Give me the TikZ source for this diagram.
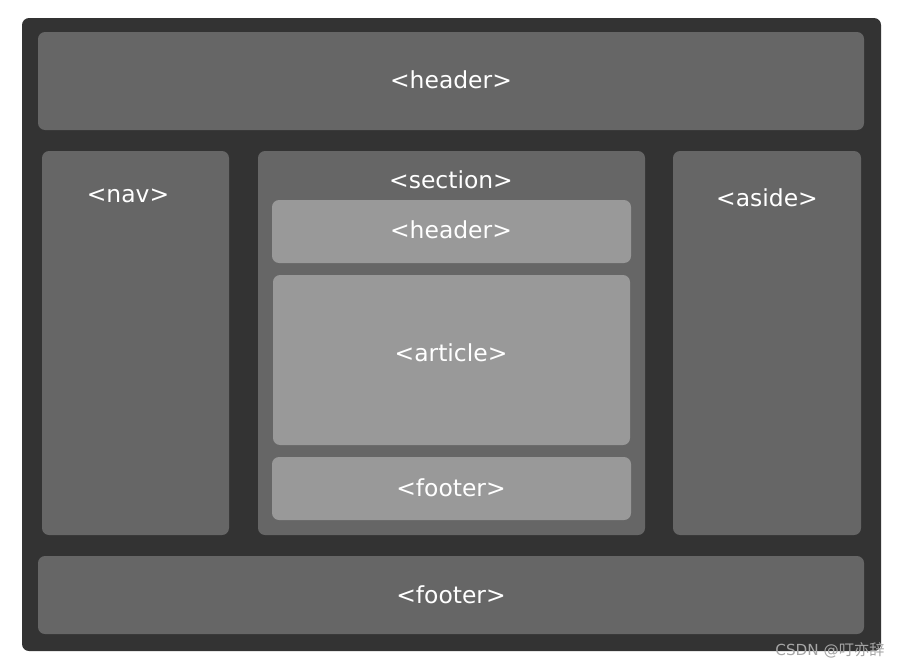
\documentclass[tikz,border=0pt]{standalone}
\usepackage{fontspec}
\setmainfont{DejaVu Sans}
\newfontfamily\cjk{Noto Sans CJK SC}
\usetikzlibrary{positioning}
\begin{document}
\begin{tikzpicture}
    [ x = .03cm, y = -.03cm
    , box/.style =
      { rounded corners=6pt, draw=none }
    , outer/.style =
      { box, fill=black!80 }
    , block/.style =
      { box, fill=black!60 }
    , inner/.style =
      { box, fill=black!40 }
    , tag/.style =
      { text=white, font=\fontsize{20}{24}\selectfont }
    ]
    \useasboundingbox (0,0) rectangle (905,669);
    \fill [outer] (22,18) rectangle (881,651);
    \fill [block] (38,32) rectangle (864,130);
    \fill [block] (42,151) rectangle (229,535);
    \fill [block] (258,151) rectangle (645,535);
    \fill [block] (673,151) rectangle (861,535);
    \fill [block] (38,556) rectangle (864,634);
    \fill [inner] (272,200) rectangle (631,263);
    \fill [inner] (273,275) rectangle (630,445);
    \fill [inner] (272,457) rectangle (631,520);

    \node [tag] (header) at (451,80) {<header>};
    \node [tag] (nav) at (128,196) {<nav>};
    \node [tag] (section) at (451,180) {<section>};
    \node [tag] (aside) at (767,198) {<aside>};
    \node [tag] (sheader) at (451,230) {<header>};
    \node [tag] (article) at (451,353) {<article>};
    \node [tag] (sfooter) at (451,488) {<footer>};
    \node [tag] (footer) at (451,595) {<footer>};
    \node [text=black!35, font=\fontsize{13}{15}\selectfont] (mark) at (830,650)
      {CSDN @{\cjk 叮亦辞}};
\end{tikzpicture}
\end{document}
